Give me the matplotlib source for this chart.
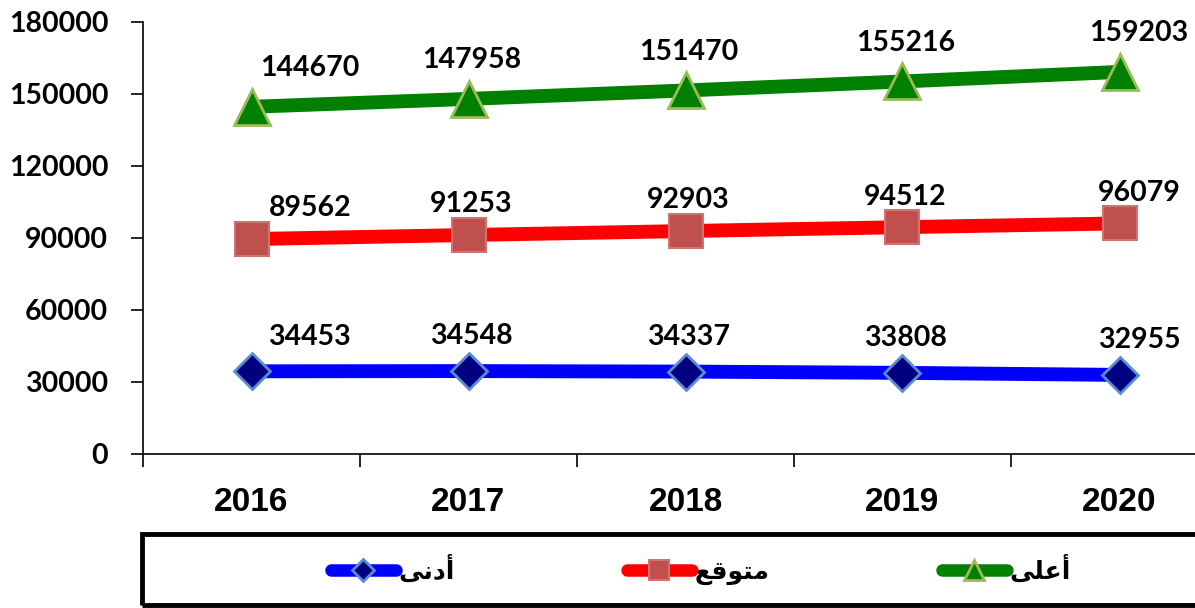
import numpy as np
import matplotlib
matplotlib.use("Agg")
import matplotlib.pyplot as plt
from matplotlib.patches import Rectangle


# data
years = ["2016", "2017", "2018", "2019", "2020"]
low = [34453, 34548, 34337, 33808, 32955]
mid = [89562, 91253, 92903, 94512, 96079]
high = [144670, 147958, 151470, 155216, 159203]

# legend names, pre-shaped arabic (visual order)
name_low = "\uFEF0\uFEE7\uFEA9\uFE83"        # أدنى
name_mid = "\uFECA\uFED7\uFEEE\uFE98\uFEE3"  # متوقع
name_high = "\uFEF0\uFEE0\uFECB\uFE83"       # أعلى


fig = plt.figure(figsize=(11.95, 6.08), dpi=100)
ax = fig.add_axes([143 / 1195, 154 / 608, 1085 / 1195, 432 / 608])

x = np.arange(len(years))

l1, = ax.plot(x, low, color="#0000FF", lw=10, solid_capstyle="round",
              marker="D", ms=18, mfc="#000080", mec="#5B8BD0", mew=2,
              label=name_low, zorder=3)
l2, = ax.plot(x, mid, color="#FF0000", lw=10, solid_capstyle="round",
              marker="s", ms=25, mfc="#C0504D", mec="#D07470", mew=1.5,
              label=name_mid, zorder=3)
l3, = ax.plot(x, high, color="#008000", lw=10, solid_capstyle="round",
              marker="^", ms=26, mfc="#008000", mec="#9BBB59", mew=2,
              label=name_high, zorder=3)

# data labels
lab_font = dict(family="Lato", weight="bold", size=20.5, ha="center", va="center")
dx = [42, 2, 2, 2, 14]
for series, dy in ((low, 25), (mid, 22), (high, 28)):
    for i, v in enumerate(series):
        ax.annotate(f"{v}", (x[i], v), xytext=(dx[i], dy),
                    textcoords="offset points", annotation_clip=False,
                    **lab_font)

# axes
ax.set_xlim(-0.5, len(years) - 0.5)
ax.set_ylim(0, 180000)
ax.set_yticks(np.arange(0, 180001, 30000))
ax.set_xticks(x)
ax.set_xticklabels(years)
ax.set_xticks(np.arange(-0.5, len(years), 1), minor=True)
ax.tick_params(axis="x", which="major", length=0, pad=24)
ax.tick_params(axis="x", which="minor", length=9, width=1.2, direction="out")
ax.tick_params(axis="y", length=9, width=1.2, direction="out", pad=16)
for t in ax.get_yticklabels():
    t.set_fontfamily("Lato")
    t.set_fontweight("bold")
    t.set_fontsize(20.5)
for t in ax.get_xticklabels():
    t.set_fontfamily("Liberation Sans")
    t.set_fontweight("bold")
    t.set_fontsize(24)

for s in ("top", "right"):
    ax.spines[s].set_visible(False)
ax.spines["left"].set_linewidth(1.2)
ax.spines["bottom"].set_linewidth(1.2)

# legend box
fig.patches.append(Rectangle((142 / 1195, 3 / 608), 1.0, 71 / 608,
                             transform=fig.transFigure, fill=False,
                             edgecolor="black", lw=3.5, clip_on=False))
leg = fig.legend(handles=[l1, l2, l3], loc="center left",
                 bbox_to_anchor=(308 / 1195, 38 / 608), ncol=3,
                 frameon=False, handlelength=2.6, handletextpad=0.1,
                 columnspacing=6.9, prop=dict(family="DejaVu Sans",
                                              weight="bold", size=18))
for h, ms in zip(leg.legend_handles, (11, 15, 14)):
    h.set_markersize(ms)
    h.set_linewidth(9)

fig.savefig("out.png", dpi=100)
